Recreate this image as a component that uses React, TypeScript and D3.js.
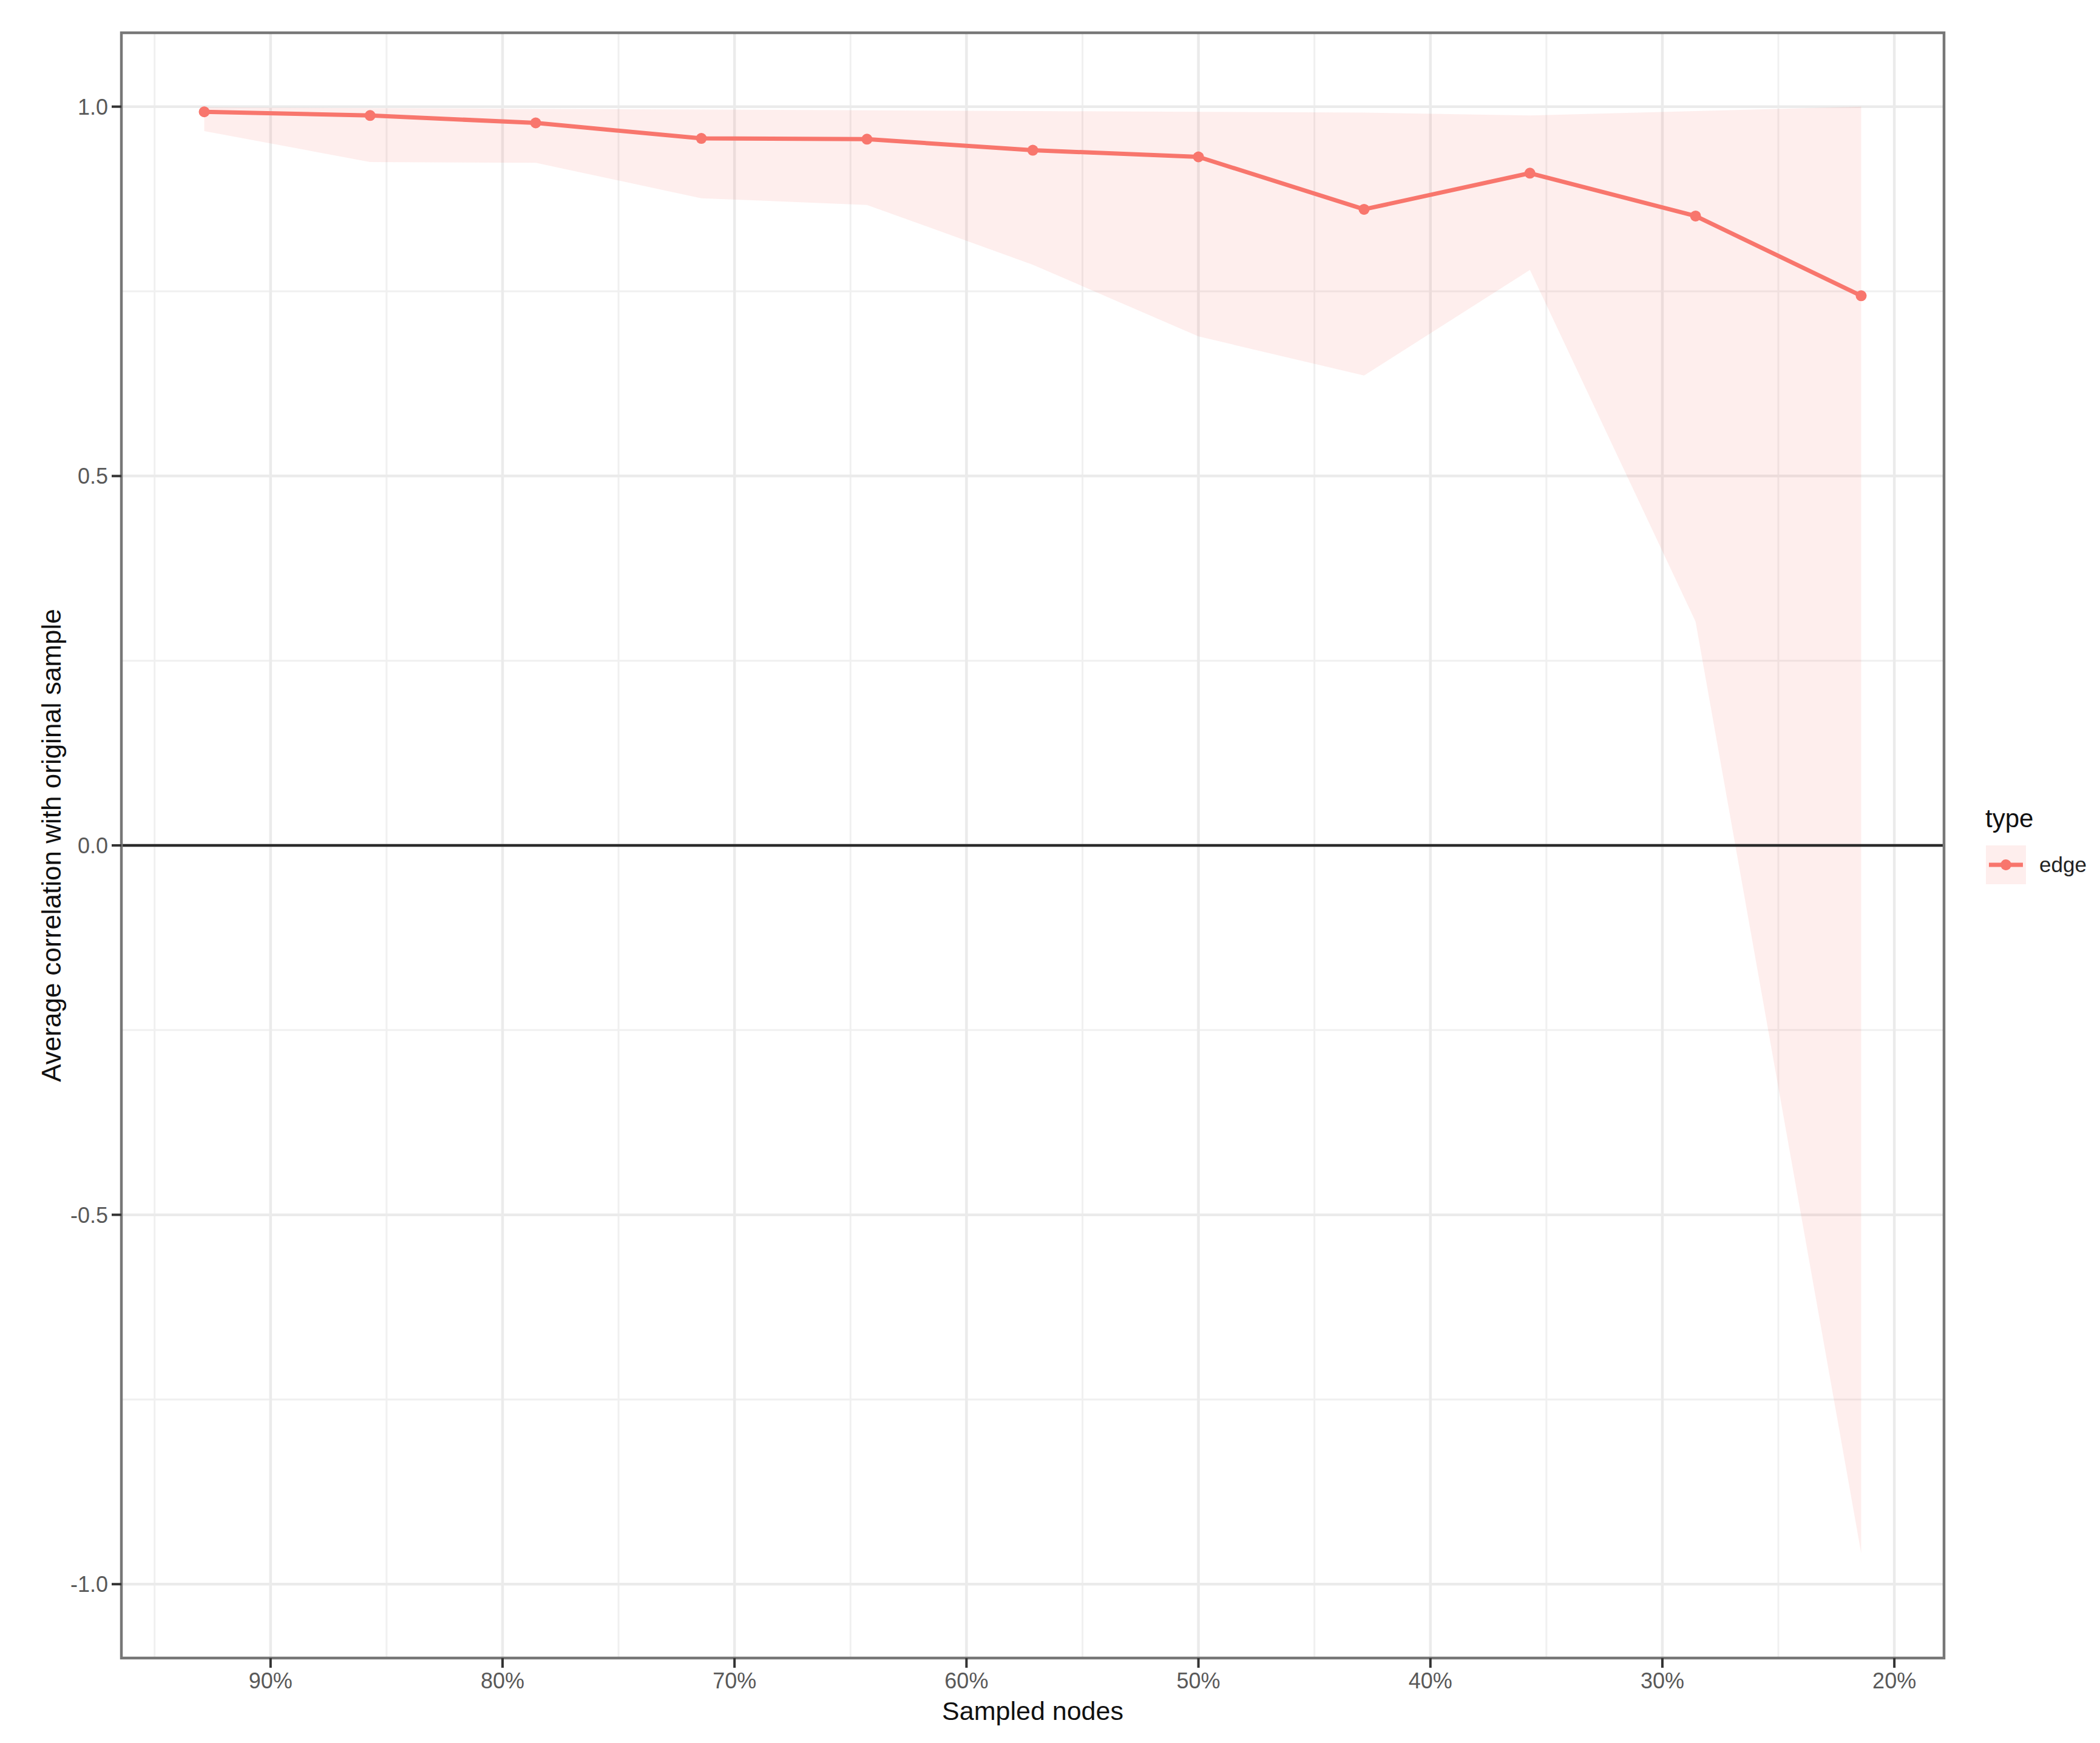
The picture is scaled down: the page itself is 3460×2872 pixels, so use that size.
import * as d3 from "d3";

// Share of nodes kept in each subsample (%).
const sampledPct = [92.86, 85.71, 78.57, 71.43, 64.29, 57.14, 50.0, 42.86, 35.71, 28.57, 21.43];
// Average correlation with the original sample (type = edge).
const avgCorr = [0.993, 0.988, 0.978, 0.957, 0.956, 0.941, 0.932, 0.861, 0.91, 0.852, 0.744];
// Ribbon bounds.
const corrLow = [0.967, 0.925, 0.924, 0.876, 0.867, 0.786, 0.689, 0.636, 0.779, 0.303, -0.958];
const corrHigh = [0.999, 0.998, 0.997, 0.996, 0.995, 0.994, 0.993, 0.992, 0.988, 0.994, 1.0];

const xTicks = [90, 80, 70, 60, 50, 40, 30, 20];
const xMinorTicks = [95, 85, 75, 65, 55, 45, 35, 25];
const yTicks = [-1, -0.5, 0, 0.5, 1];
const yMinorTicks = [-0.75, -0.25, 0.25, 0.75];
const yLimits: [number, number] = [-1, 1];
const seriesName = "edge";

const W = 3460;
const H = 2872;
const panel = { left: 200, right: 3203, top: 54, bottom: 2732 };
const RED = "#F8766D";
const FONT = "'Liberation Sans', Arial, Helvetica, sans-serif";

type Row = { s: number; m: number; lo: number; hi: number };

// ggplot-style 5% expansion of a continuous range
const expand = ([a, b]: [number, number], mult = 0.05): [number, number] => {
  const d = (b - a) * mult;
  return [a - d, b + d];
};

export default function App() {
  const xExt = expand(d3.extent(sampledPct) as [number, number]);
  // reversed axis: large percentages on the left
  const x = d3.scaleLinear().domain([xExt[1], xExt[0]]).range([panel.left, panel.right]);
  const y = d3.scaleLinear().domain(expand(yLimits)).range([panel.bottom, panel.top]);

  const rows: Row[] = sampledPct.map((s, i) => ({
    s,
    m: avgCorr[i],
    lo: corrLow[i],
    hi: corrHigh[i],
  }));

  const ribbon = d3
    .area<Row>()
    .x((d) => x(d.s))
    .y0((d) => y(d.lo))
    .y1((d) => y(d.hi));
  const line = d3
    .line<Row>()
    .x((d) => x(d.s))
    .y((d) => y(d.m));

  const pw = panel.right - panel.left;
  const ph = panel.bottom - panel.top;
  const cx = (panel.left + panel.right) / 2;
  const cy = (panel.top + panel.bottom) / 2;

  return (
    <svg
      width={W}
      height={H}
      style={{ position: "absolute", left: 0, top: 0, background: "#fff" }}
      fontFamily={FONT}
    >
      <defs>
        <clipPath id="panel-clip">
          <rect x={panel.left} y={panel.top} width={pw} height={ph} />
        </clipPath>
      </defs>

      <g clipPath="url(#panel-clip)">
        {/* minor grid */}
        {xMinorTicks.map((t) => (
          <line key={`xm${t}`} x1={x(t)} x2={x(t)} y1={panel.top} y2={panel.bottom} stroke="#F0F0F0" strokeWidth={3} />
        ))}
        {yMinorTicks.map((t) => (
          <line key={`ym${t}`} x1={panel.left} x2={panel.right} y1={y(t)} y2={y(t)} stroke="#F0F0F0" strokeWidth={3} />
        ))}
        {/* major grid */}
        {xTicks.map((t) => (
          <line key={`xg${t}`} x1={x(t)} x2={x(t)} y1={panel.top} y2={panel.bottom} stroke="#EBEBEB" strokeWidth={4.5} />
        ))}
        {yTicks.map((t) => (
          <line key={`yg${t}`} x1={panel.left} x2={panel.right} y1={y(t)} y2={y(t)} stroke="#EBEBEB" strokeWidth={4.5} />
        ))}

        <path d={ribbon(rows) ?? ""} fill={RED} fillOpacity={0.12} />

        <line x1={panel.left} x2={panel.right} y1={y(0)} y2={y(0)} stroke="#2b2b2b" strokeWidth={4.5} />

        <path d={line(rows) ?? ""} fill="none" stroke={RED} strokeWidth={7} strokeLinejoin="round" />
        {rows.map((d) => (
          <circle key={d.s} cx={x(d.s)} cy={y(d.m)} r={9} fill={RED} />
        ))}
      </g>

      {/* panel border */}
      <rect x={panel.left} y={panel.top} width={pw} height={ph} fill="none" stroke="#777" strokeWidth={4.5} />

      {/* y axis */}
      {yTicks.map((t) => (
        <g key={`yt${t}`}>
          <line x1={panel.left - 16} x2={panel.left} y1={y(t)} y2={y(t)} stroke="#333" strokeWidth={4} />
          <text x={178} y={y(t)} dy="0.36em" textAnchor="end" fontSize={36} fill="#595959">
            {t.toFixed(1)}
          </text>
        </g>
      ))}
      <text transform={`translate(100,${cy}) rotate(-90)`} textAnchor="middle" fontSize={44} fill="#111">
        Average correlation with original sample
      </text>

      {/* x axis */}
      {xTicks.map((t) => (
        <g key={`xt${t}`}>
          <line x1={x(t)} x2={x(t)} y1={panel.bottom} y2={panel.bottom + 16} stroke="#333" strokeWidth={4} />
          <text x={x(t)} y={2782} textAnchor="middle" fontSize={36} fill="#595959">
            {`${t}%`}
          </text>
        </g>
      ))}
      <text x={cx} y={2834} textAnchor="middle" fontSize={43} fill="#111">
        Sampled nodes
      </text>

      {/* legend */}
      <g>
        <text x={3271} y={1363} fontSize={42} fill="#111">
          type
        </text>
        <rect x={3272} y={1393} width={66} height={64} fill={RED} fillOpacity={0.12} />
        <line x1={3277} x2={3333} y1={1425} y2={1425} stroke={RED} strokeWidth={7} />
        <circle cx={3305} cy={1425} r={9} fill={RED} />
        <text x={3360} y={1437} fontSize={35} fill="#222">
          {seriesName}
        </text>
      </g>
    </svg>
  );
}
